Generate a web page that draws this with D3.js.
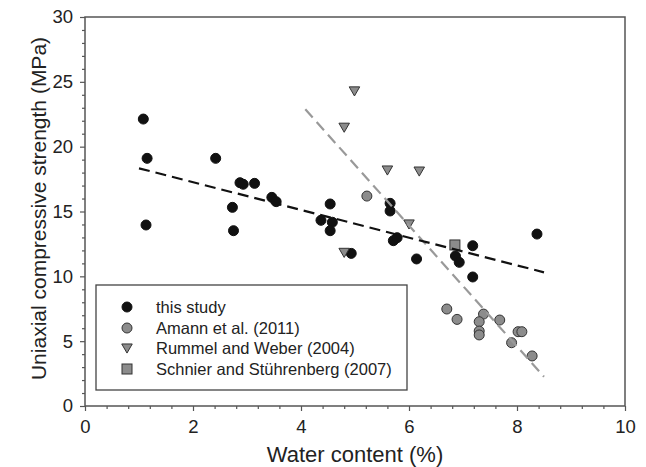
<!DOCTYPE html>
<html>
<head>
<meta charset="utf-8">
<script src="https://cdn.jsdelivr.net/npm/d3@7"></script>
<style>
  body { margin: 0; background: #fff; }
  svg text { font-family: "Liberation Sans", Arial, sans-serif; fill: #222; }
</style>
</head>
<body>
<div id="chart"></div>
<script>
// values
const thisStudyX = [1.08, 1.15, 1.13, 2.42, 2.87, 2.93, 3.14, 2.73, 2.75, 3.46, 3.54, 4.54, 4.37, 4.58, 4.54, 4.93, 5.65, 5.65, 5.71, 5.78, 6.14, 7.18, 6.86, 6.93, 7.18, 8.37];
const thisStudyY = [22.13, 19.10, 13.96, 19.10, 17.22, 17.10, 17.17, 15.32, 13.52, 16.09, 15.76, 15.58, 14.32, 14.17, 13.52, 11.77, 15.63, 15.04, 12.75, 12.98, 11.34, 12.36, 11.57, 11.08, 9.95, 13.26];

const amannX = [5.22, 6.70, 6.89, 7.38, 7.30, 7.30, 7.30, 7.68, 8.02, 8.09, 7.90, 8.28];
const amannY = [16.19, 7.48, 6.68, 7.09, 6.50, 5.78, 5.48, 6.63, 5.73, 5.73, 4.88, 3.86];

const rummelX = [4.99, 4.80, 4.80, 5.60, 6.19, 6.00];
const rummelY = [24.3, 21.5, 11.85, 18.2, 18.12, 14.04];

const schnierX = [6.85];
const schnierY = [12.42];

// dashed fit lines (end points)
const fitBlackX = [1.0, 8.5];
const fitBlackY = [18.33, 10.31];
const fitGreyX = [4.08, 8.5];
const fitGreyY = [22.88, 2.26];

const xMajor = [0, 2, 4, 6, 8, 10];
const yMajor = [0, 5, 10, 15, 20, 25, 30];

const legendLabels = ["this study", "Amann et al. (2011)", "Rummel and Weber (2004)", "Schnier and Stührenberg (2007)"];

const width = 646, height = 467;
const margin = { left: 85, top: 17, right: 21, bottom: 61 };
const innerW = width - margin.left - margin.right;
const innerH = height - margin.top - margin.bottom;

const svg = d3.select("#chart").append("svg")
  .attr("width", width)
  .attr("height", height);

const g = svg.append("g")
  .attr("transform", "translate(" + margin.left + "," + margin.top + ")");

const x = d3.scaleLinear().domain([0, 10]).range([0, innerW]);
const y = d3.scaleLinear().domain([0, 30]).range([innerH, 0]);

const axisColor = "#555";

// minor ticks
const xMinor = d3.range(0, 10.001, 0.4).filter(v => Math.abs(v / 2 - Math.round(v / 2)) > 1e-6);
const yMinor = d3.range(0, 30.001, 1).filter(v => v % 5 !== 0);

g.append("g")
  .attr("transform", "translate(0," + innerH + ")")
  .call(d3.axisBottom(x).tickValues(xMinor).tickSize(3).tickFormat(""))
  .call(s => s.select(".domain").remove())
  .call(s => s.selectAll("line").attr("stroke", axisColor).attr("stroke-width", 1.2));

g.append("g")
  .call(d3.axisLeft(y).tickValues(yMinor).tickSize(3).tickFormat(""))
  .call(s => s.select(".domain").remove())
  .call(s => s.selectAll("line").attr("stroke", axisColor).attr("stroke-width", 1.2));

const xAxisG = g.append("g")
  .attr("transform", "translate(0," + innerH + ")")
  .call(d3.axisBottom(x).tickValues(xMajor).tickSize(5).tickSizeOuter(0).tickPadding(9));
xAxisG.select(".domain").remove();
xAxisG.selectAll("line").attr("stroke", axisColor).attr("stroke-width", 1.2);
xAxisG.selectAll("text").attr("font-size", "18.5px").style("font-family", "Liberation Sans, Arial, sans-serif").attr("fill", "#222");

const yAxisG = g.append("g")
  .call(d3.axisLeft(y).tickValues(yMajor).tickSize(5).tickSizeOuter(0).tickPadding(7));
yAxisG.select(".domain").remove();
yAxisG.selectAll("line").attr("stroke", axisColor).attr("stroke-width", 1.2);
yAxisG.selectAll("text").attr("font-size", "18.5px").style("font-family", "Liberation Sans, Arial, sans-serif").attr("fill", "#222");

// frame
g.append("rect")
  .attr("x", 0).attr("y", 0)
  .attr("width", innerW).attr("height", innerH)
  .attr("fill", "none")
  .attr("stroke", axisColor)
  .attr("stroke-width", 1.5);

// axis titles
svg.append("text")
  .attr("x", margin.left + innerW / 2)
  .attr("y", 462)
  .attr("text-anchor", "middle")
  .attr("font-size", "22px")
  .text("Water content (%)");

svg.append("text")
  .attr("transform", "translate(46," + (margin.top + innerH / 2 - 3) + ") rotate(-90)")
  .attr("text-anchor", "middle")
  .attr("font-size", "21px")
  .text("Uniaxial compressive strength (MPa)");

// symbols
const r = 5;
const tri = d3.symbol().type(d3.symbolTriangle).size(48);
const sq = 100;

function drawCircles(xs, ys, fill, stroke) {
  g.append("g").selectAll("circle")
    .data(xs.map((v, i) => [v, ys[i]]))
    .join("circle")
    .attr("cx", d => x(d[0]))
    .attr("cy", d => y(d[1]))
    .attr("r", r)
    .attr("fill", fill)
    .attr("stroke", stroke)
    .attr("stroke-width", 1);
}

drawCircles(thisStudyX, thisStudyY, "#111", "#111");
drawCircles(amannX, amannY, "#8c8c8c", "#333");

g.append("g").selectAll("path")
  .data(rummelX.map((v, i) => [v, rummelY[i]]))
  .join("path")
  .attr("d", tri)
  .attr("transform", d => "translate(" + x(d[0]) + "," + (y(d[1]) - 1) + ") rotate(180)")
  .attr("fill", "#8c8c8c")
  .attr("stroke", "#333")
  .attr("stroke-width", 1);

g.append("g").selectAll("rect")
  .data(schnierX.map((v, i) => [v, schnierY[i]]))
  .join("rect")
  .attr("x", d => x(d[0]) - 5)
  .attr("y", d => y(d[1]) - 5)
  .attr("width", 10).attr("height", 10)
  .attr("fill", "#8c8c8c")
  .attr("stroke", "#333")
  .attr("stroke-width", 1);

// fit lines drawn over the points
const line = d3.line().x(d => x(d[0])).y(d => y(d[1]));

g.append("path")
  .datum(fitGreyX.map((v, i) => [v, fitGreyY[i]]))
  .attr("d", line)
  .attr("fill", "none")
  .attr("stroke", "#999")
  .attr("stroke-width", 2.2)
  .attr("stroke-dasharray", "11,6");

g.append("path")
  .datum(fitBlackX.map((v, i) => [v, fitBlackY[i]]))
  .attr("d", line)
  .attr("fill", "none")
  .attr("stroke", "#111")
  .attr("stroke-width", 2.2)
  .attr("stroke-dasharray", "11,6");

// legend
const legend = svg.append("g").attr("transform", "translate(96,285)");
legend.append("rect")
  .attr("width", 311).attr("height", 105)
  .attr("fill", "#fff")
  .attr("stroke", "#444")
  .attr("stroke-width", 1.3);

const rowY = [22, 43, 63, 84];
const lx = 31;

legend.append("circle").attr("cx", lx).attr("cy", rowY[0]).attr("r", r)
  .attr("fill", "#111").attr("stroke", "#111");
legend.append("circle").attr("cx", lx).attr("cy", rowY[1]).attr("r", r)
  .attr("fill", "#8c8c8c").attr("stroke", "#333");
legend.append("path").attr("d", tri)
  .attr("transform", "translate(" + lx + "," + (rowY[2] - 1) + ") rotate(180)")
  .attr("fill", "#8c8c8c").attr("stroke", "#333");
legend.append("rect").attr("x", lx - 5).attr("y", rowY[3] - 5)
  .attr("width", 10).attr("height", 10)
  .attr("fill", "#8c8c8c").attr("stroke", "#333");

legend.selectAll("text.lab")
  .data(legendLabels)
  .join("text")
  .attr("class", "lab")
  .attr("x", 60)
  .attr("y", (d, i) => rowY[i] + 6)
  .attr("font-size", "16.5px")
  .text(d => d);
</script>
</body>
</html>
